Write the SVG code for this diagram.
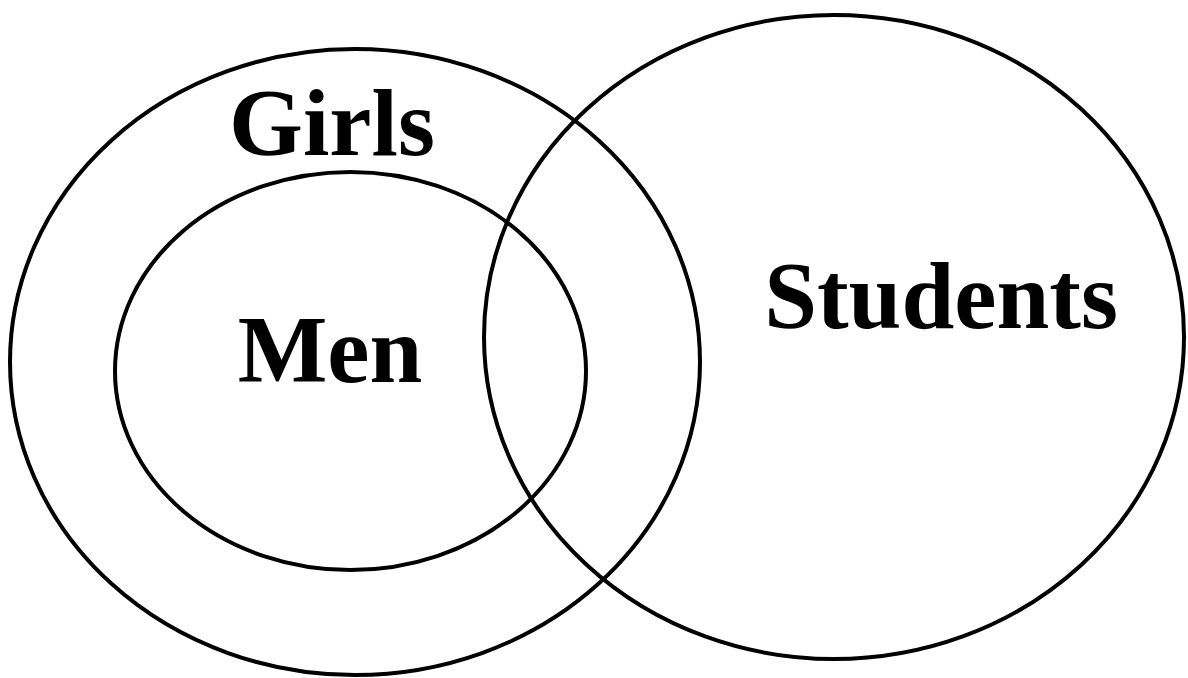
<svg xmlns="http://www.w3.org/2000/svg" width="1188" height="678" viewBox="0 0 1188 678">
<style>
.set{fill:none;stroke:#000;stroke-width:4}
.lbl{font-family:"Liberation Serif","Times New Roman",serif;font-weight:bold;font-size:95px;fill:#000;text-anchor:middle}
</style>
<rect width="1188" height="678" fill="#fff"/>
<g id="girls">
<ellipse class="set" cx="355" cy="362" rx="345" ry="313"/>
<text class="lbl" x="332" y="155">Girls</text>
</g>
<g id="men">
<ellipse class="set" cx="350.5" cy="371" rx="235.5" ry="199"/>
<text class="lbl" x="330" y="382">Men</text>
</g>
<g id="students">
<ellipse class="set" cx="834" cy="337" rx="350" ry="322"/>
<text class="lbl" x="941" y="328">Students</text>
</g>
<g id="connectors"></g>
</svg>
